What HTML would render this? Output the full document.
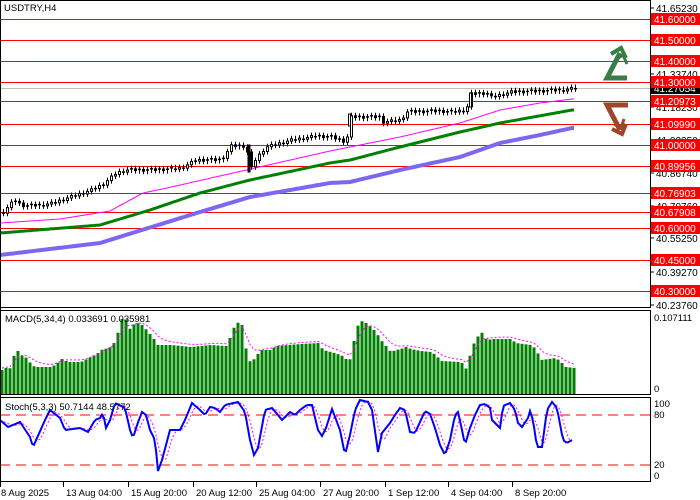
<!DOCTYPE html>
<html><head><meta charset="utf-8"><style>
html,body{margin:0;padding:0;background:#fff;}
svg{display:block;font-family:"Liberation Sans",sans-serif;}
</style></head><body>
<svg id="s" width="700" height="500" xmlns="http://www.w3.org/2000/svg">
<rect width="700" height="500" fill="#fff"/>
<g id="g"></g>
</svg>
<script>
const NS="http://www.w3.org/2000/svg";
const g=document.getElementById('g');
function el(t,a,txt){const e=document.createElementNS(NS,t);for(const k in a)e.setAttribute(k,a[k]);if(txt!==undefined)e.textContent=txt;g.appendChild(e);return e;}
function interp(pts,x){if(x<=pts[0][0])return pts[0][1];for(let i=1;i<pts.length;i++){if(x<=pts[i][0]){const [x0,y0]=pts[i-1],[x1,y1]=pts[i];return y0+(y1-y0)*(x-x0)/(x1-x0);}}return pts[pts.length-1][1];}
const PY=p=>19+(41.6-p)*209.2;
const lv=[41.6,41.5,41.4,41.3,41.20973,41.0999,41.0,40.89956,40.76903,40.67908,40.6,40.45,40.3];
el('line',{x1:0,x2:650,y1:88.5,y2:88.5,stroke:'#c0c0c0','stroke-width':1});
lv.forEach(p=>{const y=Math.round(PY(p))+0.5;el('line',{x1:0,x2:650,y1:y,y2:y,stroke:'#ff0000','stroke-width':1});});
function poly(pts,col,w){let d='';for(let x=0;x<=574;x+=2)d+=(d?' ':'')+x+','+interp(pts,x).toFixed(1);el('polyline',{points:d,fill:'none',stroke:col,'stroke-width':w});}
poly([[0,255],[100,243],[200,212],[250,197],[330,183],[350,182],[400,170],[460,157],[500,143],[540,135],[572,128]],'#7b68ee',4);
poly([[0,233],[100,225],[150,210],[200,193],[250,180],[330,163],[350,160],[400,147],[460,132],[500,123],[572,110]],'#008000',3);
poly([[0,223],[60,219],[110,211],[143,193],[167,188],[233,173],[330,151],[400,137],[460,123],[500,110],[540,103],[572,99]],'#ff00ff',1);
const pr=[[2,212],[13,200],[20,205],[25,206],[40,205],[52,203],[60,200],[75,195],[90,190],[102,184],[115,173],[125,170],[150,170],[170,169],[180,168],[195,160],[220,160],[230,146],[245,146],[249,170],[255,158],[265,147],[290,140],[315,136],[330,137],[345,142],[350,117],[378,117],[382,122],[400,120],[405,112],[440,111],[448,112],[465,110],[470,94],[485,93],[490,97],[510,92],[540,91],[560,90],[575,88]];
let prev=interp(pr,0);
for(let x=2;x<=574;x+=4){let c=interp(pr,x)+((x*7)%5-2)*0.6;let o=prev;let top=Math.min(o,c),bot=Math.max(o,c);let up=c<o;
el('line',{x1:x+1.5,x2:x+1.5,y1:top-3,y2:bot+3,stroke:'#000','stroke-width':1});
if(bot-top<1.5){el('line',{x1:x,x2:x+3,y1:c,y2:c,stroke:'#000','stroke-width':1.5});}
else el('rect',{x:x+0.5,y:top,width:2,height:bot-top,fill:up?'#fff':'#000',stroke:'#000','stroke-width':1});
prev=c;}
el('rect',{x:248,y:145,width:2,height:27,fill:'#000',stroke:'#000'});
el('rect',{x:469.5,y:93,width:2,height:14,fill:'#fff',stroke:'#000'});
el('rect',{x:348.5,y:114,width:2,height:12,fill:'#fff',stroke:'#000'});
el('polyline',{points:'627,78 607,78 620,53',fill:'none',stroke:'#3a7d44','stroke-width':5,'stroke-linejoin':'miter'});
el('polyline',{points:'611,54 621,48 626,58',fill:'none',stroke:'#3a7d44','stroke-width':4});
el('polyline',{points:'615,60 623,55 627,64',fill:'none',stroke:'#3a7d44','stroke-width':3});
el('polyline',{points:'628,105 607,105 620,130',fill:'none',stroke:'#a0442a','stroke-width':5});
el('polyline',{points:'612,129 622,134 626,124',fill:'none',stroke:'#a0442a','stroke-width':4});
el('polyline',{points:'614,124 621,128 624,119',fill:'none',stroke:'#a0442a','stroke-width':3});
const red=[[41.6,'41.60000'],[41.5,'41.50000'],[41.4,'41.40000'],[41.3,'41.30000'],[41.20973,'41.20973'],[41.0999,'41.09990'],[41.0,'41.00000'],[40.89956,'40.89956'],[40.76903,'40.76903'],[40.67908,'40.67908'],[40.6,'40.60000'],[40.45,'40.45000'],[40.3,'40.30000']];
const blk=[[8,'41.65230'],[74,'41.33740'],[107,'41.18230'],[140,'41.02350'],[173,'40.86740'],[206,'40.70760'],[238,'40.55250'],[272,'40.39270'],[305,'40.23760']];
blk.forEach(([y,t])=>{el('line',{x1:650,x2:654,y1:y,y2:y,stroke:'#000'});el('text',{x:656,y:y+4,'font-size':10,fill:'#000'},t);});
red.forEach(([p,t])=>{const y=Math.round(PY(p));el('rect',{x:651,y:y-6,width:49,height:12,fill:'#ff0000'});el('text',{x:654,y:y+4,'font-size':10,fill:'#fff'},t);});
el('rect',{x:651,y:82,width:49,height:12,fill:'#000'});el('text',{x:654,y:92,'font-size':10,fill:'#fff'},'41.27054');
el('rect',{x:651,y:76,width:49,height:12,fill:'#ff0000'});el('text',{x:654,y:86,'font-size':10,fill:'#fff'},'41.30000');
const mb=[[1,370],[5,368],[8,372],[12,357],[17,351],[21,356],[26,358],[30,364],[34,367],[50,367],[54,365],[58,362],[62,358],[66,362],[80,362],[84,360],[88,358],[92,356],[96,354],[100,350],[104,349],[108,348],[112,345],[116,337],[120,320],[124,316],[128,330],[132,325],[136,323],[140,324],[144,328],[148,333],[152,337],[156,345],[170,345],[190,347],[210,345],[225,346],[230,336],[234,325],[238,322],[242,326],[246,356],[250,363],[254,358],[260,350],[270,350],[275,346],[300,344],[318,343],[322,350],[330,352],[340,355],[345,359],[348,364],[352,345],[355,333],[358,322],[362,321],[365,323],[370,327],[375,332],[380,340],[385,346],[390,352],[395,350],[400,349],[405,347],[410,349],[420,351],[430,352],[435,355],[440,361],[460,362],[462,364],[466,370],[470,351],[474,341],[478,335],[482,332],[486,341],[490,339],[510,339],[515,343],[530,345],[535,349],[540,360],[555,358],[560,362],[565,367],[574,368]];
let sig='';let sv=370;
for(let x=1;x<=574;x+=4){const y=interp(mb,x);el('rect',{x:x-0.5,y:y,width:3,height:394-y,fill:'#008000'});sv=sv+(y-sv)*0.4;sig+=(sig?' ':'')+(x+1)+','+(sv-2).toFixed(1);}
el('polyline',{points:sig,fill:'none',stroke:'#ff00ff','stroke-width':1,'stroke-dasharray':'2,2'});
const st=[[0,420],[8,427],[20,422],[30,437],[33,447],[45,420],[50,410],[60,418],[65,430],[80,428],[88,432],[95,420],[100,418],[103,413],[106,428],[110,420],[115,403],[125,408],[130,430],[133,438],[137,425],[142,412],[146,415],[150,430],[155,440],[158,471],[162,460],[170,430],[180,430],[185,420],[192,403],[200,410],[205,415],[210,407],[215,408],[220,412],[225,405],[238,402],[245,412],[250,440],[254,455],[258,448],[265,410],[272,408],[278,415],[282,420],[290,412],[295,415],[300,410],[307,405],[312,405],[318,430],[322,436],[326,428],[332,409],[340,430],[345,455],[350,435],[355,410],[360,400],[368,402],[372,410],[378,452],[382,433],[390,423],[395,415],[400,408],[405,410],[410,432],[415,433],[420,422],[425,411],[430,414],[435,428],[440,445],[445,455],[450,440],[455,415],[458,412],[462,430],[465,445],[470,428],[475,415],[480,405],[485,404],[490,408],[492,420],[500,428],[503,406],[510,403],[515,410],[518,423],[522,427],[528,418],[530,411],[533,420],[537,447],[542,447],[547,410],[552,402],[557,408],[563,440],[567,443],[572,440]];
let sm='',ss='';const sa=[];
for(let x=0;x<=572;x+=2){sa.push(interp(st,x));}
for(let i=0;i<sa.length;i++){const x=i*2;sm+=(sm?' ':'')+x+','+sa[i].toFixed(1);let a=0,n=0;for(let j=Math.max(0,i-4);j<=i;j++){a+=sa[j];n++;}ss+=(ss?' ':'')+x+','+(a/n).toFixed(1);}
el('line',{x1:0,x2:650,y1:415,y2:415,stroke:'#ff0000','stroke-dasharray':'10,6'});
el('line',{x1:0,x2:650,y1:465,y2:465,stroke:'#ff0000','stroke-dasharray':'10,6'});
el('polyline',{points:ss,fill:'none',stroke:'#ff00ff','stroke-width':1,'stroke-dasharray':'2,2'});
el('polyline',{points:sm,fill:'none',stroke:'#0000ff','stroke-width':2});
el('rect',{x:0.5,y:0.5,width:650,height:307,fill:'none',stroke:'#000'});
el('rect',{x:0.5,y:310.5,width:650,height:84,fill:'none',stroke:'#000'});
el('rect',{x:0.5,y:397.5,width:650,height:84,fill:'none',stroke:'#000'});
el('line',{x1:0,x2:0,y1:0,y2:482,stroke:'#000','stroke-width':2});
el('rect',{x:2,y:1,width:72,height:12,fill:'#fff'});
el('text',{x:4,y:11,'font-size':9.5},'USDTRY,H4');
el('text',{x:5,y:322,'font-size':9.5},'MACD(5,34,4) 0.033691 0.035981');
el('text',{x:5,y:410,'font-size':9.5},'Stoch(5,3,3) 50.7144 48.5772');
el('text',{x:654,y:321,'font-size':9.5},'0.107111');
el('text',{x:654,y:392,'font-size':9.5},'0');
[[407,'100'],[418,'80'],[468,'20'],[479,'0']].forEach(([y,t])=>el('text',{x:654,y:y,'font-size':9.5},t));
[[0,'8 Aug 2025'],[63,'13 Aug 04:00'],[128,'15 Aug 20:00'],[193,'20 Aug 12:00'],[256,'25 Aug 04:00'],[320,'27 Aug 20:00'],[385,'1 Sep 12:00'],[448,'4 Sep 04:00'],[512,'8 Sep 20:00']].forEach(([x,t])=>{el('line',{x1:x+0.5,x2:x+0.5,y1:482,y2:487,stroke:'#000'});el('text',{x:x+(x?3:1),y:496,'font-size':9.5},t);});
</script>
</body></html>
